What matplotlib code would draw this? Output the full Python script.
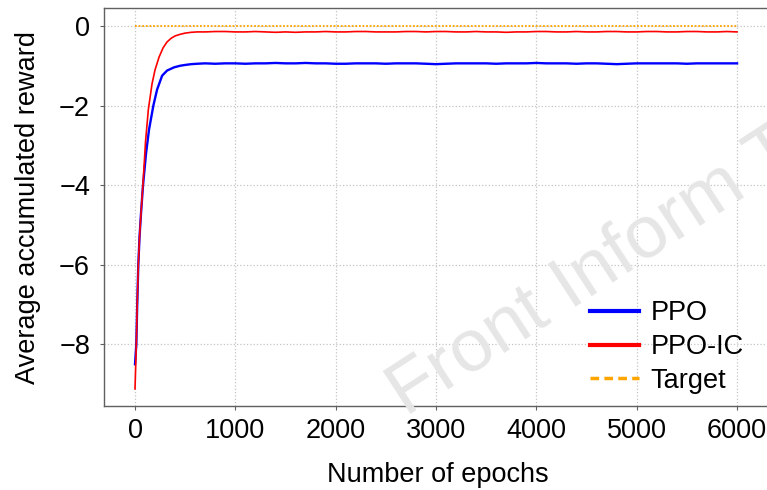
import matplotlib
matplotlib.use('Agg')
import matplotlib.pyplot as plt
from matplotlib.lines import Line2D

plt.rcParams['font.family'] = ['Liberation Sans', 'DejaVu Sans']

# PPO curve: fast transient, then plateau sampled every 100 epochs
ppo_ep = [0, 5, 13, 22, 33, 45, 60, 80, 110, 140, 183, 220, 270, 320, 390, 450, 500, 560, 620]
ppo_val = [-8.5, -8.31, -8.0, -7.0, -6.0, -5.3, -4.7, -4.0, -3.2, -2.6, -2.0, -1.6, -1.25, -1.12,
           -1.04, -1.0, -0.98, -0.96, -0.95]
ppo_plateau = [-0.94, -0.95, -0.94, -0.94, -0.95, -0.94, -0.94, -0.93, -0.94, -0.94, -0.93, -0.94,
               -0.94, -0.95, -0.95, -0.94, -0.94, -0.94, -0.95, -0.94, -0.94, -0.94, -0.95, -0.96,
               -0.95, -0.94, -0.94, -0.94, -0.94, -0.95, -0.94, -0.94, -0.94, -0.93, -0.94, -0.94,
               -0.94, -0.95, -0.94, -0.94, -0.95, -0.96, -0.95, -0.94, -0.94, -0.94, -0.94, -0.94,
               -0.95, -0.94, -0.94, -0.94, -0.94, -0.94]

# PPO-IC curve
ic_ep = [0, 5, 13, 22, 33, 45, 60, 80, 105, 133, 170, 200, 240, 280, 320, 360, 400, 450, 500, 560, 620]
ic_val = [-9.12, -8.69, -8.0, -7.0, -6.0, -5.3, -4.7, -3.95, -2.9, -2.1, -1.45, -1.1, -0.78, -0.55,
          -0.4, -0.31, -0.25, -0.21, -0.18, -0.16, -0.15]
ic_plateau = [-0.15, -0.14, -0.14, -0.15, -0.15, -0.14, -0.15, -0.16, -0.15, -0.16, -0.15, -0.15,
              -0.14, -0.15, -0.15, -0.14, -0.14, -0.15, -0.15, -0.15, -0.14, -0.14, -0.15, -0.14,
              -0.14, -0.15, -0.15, -0.14, -0.15, -0.15, -0.16, -0.15, -0.15, -0.14, -0.14, -0.15,
              -0.15, -0.14, -0.15, -0.15, -0.14, -0.14, -0.15, -0.15, -0.14, -0.14, -0.15, -0.15,
              -0.14, -0.14, -0.15, -0.15, -0.14, -0.15]
plateau_ep = list(range(700, 6001, 100))

target_ep = [0, 6000]
target_val = [0, 0]

xticks = [0, 1000, 2000, 3000, 4000, 5000, 6000]
yticks = [0, -2, -4, -6, -8]

fig = plt.figure(figsize=(7.67, 4.90), dpi=100)
ax = fig.add_axes([0.1356, 0.1714, 0.871, 0.8122])
ax.set_facecolor('none')

ax.plot(ppo_ep + plateau_ep, ppo_val + ppo_plateau, color='#0000ff', lw=1.7, zorder=3)
ax.plot(ic_ep + plateau_ep, ic_val + ic_plateau, color='#ff0000', lw=1.2, zorder=4)
ax.plot(target_ep, target_val, color='#ffa500', lw=1.3, ls=(0, (1, 1)), zorder=2)

ax.set_xlim(-309, 6349)
ax.set_ylim(-9.55, 0.45)
ax.set_xticks(xticks)
ax.set_yticks(yticks)
ax.grid(True, color='#c4c4c4', ls=':', lw=0.9)
ax.tick_params(labelsize=19.5, length=3, width=0.8, colors='#606060', labelcolor='black')
ax.tick_params(axis='x', pad=5.5)
ax.tick_params(axis='y', pad=7)
for s in ax.spines.values():
    s.set_color('#606060')
    s.set_linewidth(1.0)

ax.set_xlabel('Number of epochs', fontsize=19.5, labelpad=13)
ax.set_ylabel('Average accumulated reward', fontsize=19.5, labelpad=13)

handles = [Line2D([], [], color='#0000ff', lw=3),
           Line2D([], [], color='#ff0000', lw=3),
           Line2D([], [], color='#ffa500', lw=2.5, ls=(0, (2.5, 1.5)))]
fig.legend(handles, ['PPO', 'PPO-IC', 'Target'], loc='center left',
           bbox_to_anchor=(0.769, 0.2918), frameon=False, fontsize=19.5,
           handlelength=1.8, handletextpad=0.45, labelspacing=0.28,
           borderpad=0, borderaxespad=0)

fig.text(0.529, 0.149, 'Front Inform Technol', fontsize=54, color='#e6e6e6',
         rotation=33, rotation_mode='anchor', ha='left', va='baseline', zorder=0.5)

fig.savefig('out.png', dpi=100)
